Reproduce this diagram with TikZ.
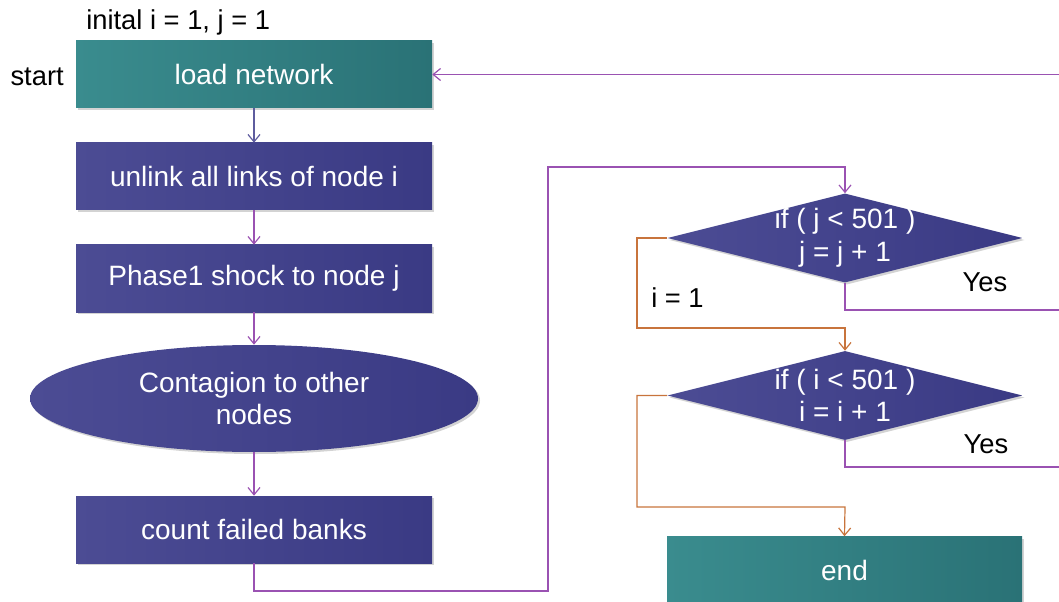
\documentclass[tikz,border=0pt]{standalone}
\usepackage{fontspec}
\setmainfont{Liberation Sans}
\usetikzlibrary{arrows.meta,shapes.geometric,shadows}

\definecolor{navyL}{HTML}{4C4C94}
\definecolor{navyR}{HTML}{3A3A84}
\definecolor{tealL}{HTML}{3A8C8E}
\definecolor{tealR}{HTML}{2A7276}
\definecolor{linkpurple}{HTML}{9A52B2}
\definecolor{linknavy}{HTML}{5E5C9E}
\definecolor{linkorange}{HTML}{C8743C}

\tikzset{
  lbl/.style={font=\fontsize{20.5}{24}\selectfont, text=black, inner sep=0pt},
  wtxt/.style={font=\fontsize{21}{24.5}\selectfont, text=white, align=center, inner sep=0pt},
  shade/.style={drop shadow={opacity=0.35, shadow xshift=1.5pt, shadow yshift=-1.5pt}},
  navybox/.style={rectangle, draw=none, left color=navyL, right color=navyR, shade,
                  minimum width=267pt, minimum height=50.25pt, inner sep=0pt},
  tealbox/.style={rectangle, draw=none, left color=tealL, right color=tealR, shade,
                  minimum width=267pt, minimum height=50.25pt, inner sep=0pt},
  navyoval/.style={ellipse, draw=none, left color=navyL, right color=navyR, shade,
                  minimum width=336pt, minimum height=80.25pt, inner sep=0pt},
  decide/.style={diamond, draw=none, left color=navyL, right color=navyR, shade,
                  minimum width=266.25pt, minimum height=66.75pt, inner sep=0pt},
  tip/.style={-{Straight Barb[length=5.5pt, width=9pt]}},
  flow/.style={tip, line width=0.9pt, draw=linkpurple},
  flownavy/.style={tip, line width=0.9pt, draw=linknavy},
  flowback/.style={tip, line width=0.9pt, draw=linkorange},
  plainpurple/.style={line width=0.9pt, draw=linkpurple},
}

\begin{document}
\begin{tikzpicture}[x=0.75pt, y=-0.75pt]
  \useasboundingbox (0,0) rectangle (1059,602);

  % left column
  \node[tealbox] (load) at (254,74.5) {};
  \node[wtxt] at (load) {load network};
  \node[navybox] (unlink) at (254,176.5) {};
  \node[wtxt] at (unlink) {unlink all links of node i};
  \node[navybox] (shock) at (254,278.5) {};
  \node[wtxt] at (shock) {Phase1 shock to node j};
  \node[navyoval] (cont) at (254,398.5) {};
  \node[wtxt] at (cont) {Contagion to other\\nodes};
  \node[navybox] (count) at (254,529.5) {};
  \node[wtxt] at (count) {count failed banks};

  \node[lbl, anchor=west] (init) at (86,22) {inital i = 1, j = 1};
  \node[lbl, anchor=east] (start) at (64,77) {start};

  % right column
  \node[decide] (dj) at (845,238) {};
  \node[wtxt] at (dj) {if ( j < 501 )\\j = j + 1};
  \node[decide] (di) at (845,395.5) {};
  \node[wtxt] at (di) {if ( i < 501 )\\i = i + 1};
  \node[tealbox, minimum width=266.25pt] (finish) at (844.5,570) {};
  \node[wtxt] at (finish) {end};

  \node[lbl] (yesj) at (985,282) {Yes};
  \node[lbl] (yesi) at (986,444) {Yes};
  \node[lbl, anchor=west] (reseti) at (651,298) {i = 1};

  % loose ends at the right margin
  \coordinate (backin) at (1059,74.5);
  \coordinate (yesjout) at (1059,310);
  \coordinate (yesiout) at (1059,467);

  % connectors
  \draw[flownavy] (load) -- (unlink);
  \draw[flow] (unlink) -- (shock);
  \draw[flow] (shock) -- (cont);
  \draw[flow] (cont) -- (count);
  \draw[flow] (count.south) -- (254,591) -- (548,591) -- (548,167) -- (845,167) -- (dj.north);
  \draw[plainpurple] (dj.south) |- (yesjout);
  \draw[plainpurple] (di.south) |- (yesiout);
  \draw[flow] (backin) -- (load.east);
  \draw[flowback] (dj.west) -- (637,238) -- (637,328) -- (845,328) -- (di.north);
  \draw[flowback] (di.west) -- (637,395.5) -- (637,507) -- (845,507) -- (finish.north);
\end{tikzpicture}
\end{document}
